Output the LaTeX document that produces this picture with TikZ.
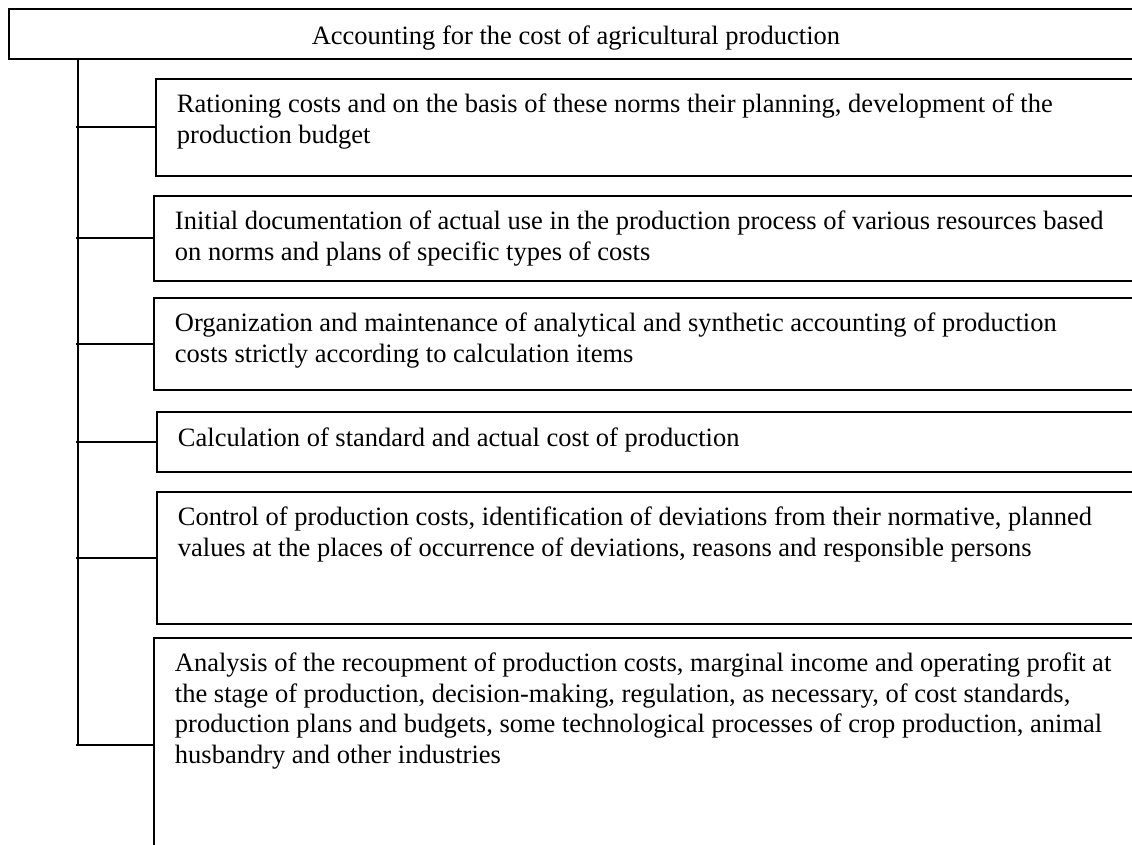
\documentclass[tikz,border=0pt]{standalone}
\usepackage{fontspec}
\setmainfont{Liberation Serif}
\usepackage{tikz}

\newcommand{\boxtext}[1]{\parbox[t]{520pt}{#1}}

\begin{document}
\begin{tikzpicture}[x=0.5pt,y=-0.5pt,line width=0.95pt,
  box/.style={draw,rectangle,anchor=north west,inner sep=0pt,minimum width=500pt},
  txt/.style={anchor=base west,inner sep=0pt,font=\fontsize{13.25}{15.2}\selectfont}]
\useasboundingbox (0,0) rectangle (1132,845);
\clip (0,0) rectangle (1132,845);

\node [box,minimum width=567pt,minimum height=25pt,text height=11pt,text depth=0pt,font=\fontsize{13.25}{15.2}\selectfont] (acc) at (8,8) {Accounting for the cost of agricultural production};

\node [box,minimum height=48.5pt] (b1) at (155,78) {};
\node [box,minimum height=42.5pt] (b2) at (153,195) {};
\node [box,minimum height=46pt]   (b3) at (153,297) {};
\node [box,minimum height=30pt]   (b4) at (156,411) {};
\node [box,minimum height=66pt]   (b5) at (156,491) {};
\node [box,minimum height=107pt]  (b6) at (153,637) {};

\node [txt] (t1) at ([shift={(21,35)}]b1.north west) {\boxtext{Rationing costs and on the basis of these norms their planning, development of the\\production budget}};
\node [txt] (t2) at ([shift={(21,35)}]b2.north west) {\boxtext{Initial documentation of actual use in the production process of various resources based\\on norms and plans of specific types of costs}};
\node [txt] (t3) at ([shift={(21,35)}]b3.north west) {\boxtext{Organization and maintenance of analytical and synthetic accounting of production\\costs strictly according to calculation items}};
\node [txt] (t4) at ([shift={(21,36)}]b4.north west) {\boxtext{Calculation of standard and actual cost of production}};
\node [txt] (t5) at ([shift={(21,35)}]b5.north west) {\boxtext{Control of production costs, identification of deviations from their normative, planned\\values at the places of occurrence of deviations, reasons and responsible persons}};
\node [txt] (t6) at ([shift={(21,35)}]b6.north west) {\boxtext{Analysis of the recoupment of production costs, marginal income and operating profit at\\the stage of production, decision-making, regulation, as necessary, of cost standards,\\production plans and budgets, some technological processes of crop production, animal\\husbandry and other industries}};

\coordinate (trunk) at (78,58);
\draw (trunk) -- (trunk |- b6.west);
\foreach \b in {b1,b2,b3,b4,b5,b6}
  \draw ([xshift=-1pt]trunk |- \b.west) -- (\b.west);

\end{tikzpicture}
\end{document}
